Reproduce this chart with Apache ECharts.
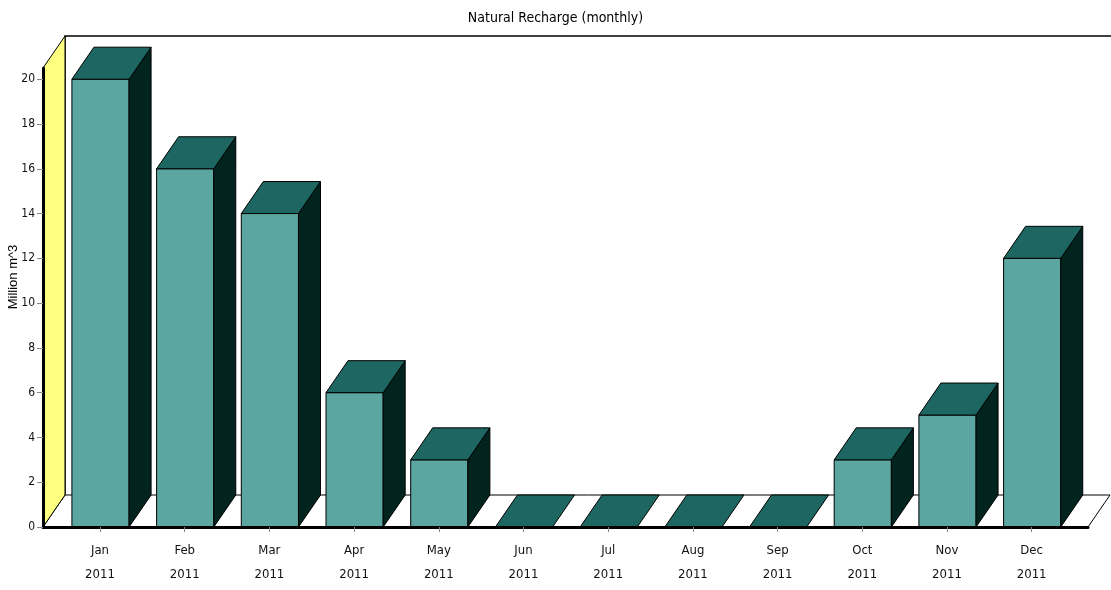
<!DOCTYPE html>
<html>
<head>
<meta charset="utf-8">
<script src="https://cdn.jsdelivr.net/npm/echarts@6/dist/echarts.min.js"></script>
<style>
  html, body { margin: 0; padding: 0; background: #ffffff; }
  #chart { width: 1111px; height: 590px; }
</style>
</head>
<body>
<div id="chart"></div>
<script>
// Monthly natural recharge, million m^3
const months = ['Jan', 'Feb', 'Mar', 'Apr', 'May', 'Jun', 'Jul', 'Aug', 'Sep', 'Oct', 'Nov', 'Dec'];
const year = '2011';
const recharge = [20, 16, 14, 6, 3, 0, 0, 0, 0, 3, 5, 12];
const yTicks = [0, 2, 4, 6, 8, 10, 12, 14, 16, 18, 20];

// Axis extents (month index on x, value on y)
const X_MIN = -0.673;
const X_MAX = 11.665;
const Y_MAX = 20.5;
// Pixel offset of the back plane (3D depth)
const DX = 22, DY = -32;

const NARROW = '"Liberation Sans Narrow", "DejaVu Sans Condensed", "Liberation Sans", sans-serif';
const COLORS = { front: '#5ca6a1', top: '#1e6661', side: '#02241f', wall: '#ffff80' };

const chart = echarts.init(document.getElementById('chart'), null, { renderer: 'canvas' });

function shift(p) { return [p[0] + DX, p[1] + DY]; }

function renderFrame(params, api) {
  const fl = api.coord([X_MIN, 0]);
  const fr = api.coord([X_MAX, 0]);
  const tl = api.coord([X_MIN, Y_MAX]);
  const stroke = { stroke: '#000', lineWidth: 1 };
  return {
    type: 'group',
    children: [
      // back wall: left and top edges
      { type: 'polyline', shape: { points: [shift(fl), shift(tl), [fr[0] + DX + 2, tl[1] + DY]] },
        style: { stroke: '#000', lineWidth: 1.5, fill: null } },
      // floor
      { type: 'polygon', shape: { points: [fl, fr, shift(fr), shift(fl)] },
        style: Object.assign({ fill: '#ffffff' }, stroke) },
      // side wall
      { type: 'polygon', shape: { points: [fl, tl, shift(tl), shift(fl)] },
        style: Object.assign({ fill: COLORS.wall }, stroke) }
    ]
  };
}

function renderBar(params, api) {
  const i = api.value(0);
  const v = api.value(1);
  const top = api.coord([i, v]);
  const base = api.coord([i, 0]);
  const w = api.size([1, 0])[0] * 0.675;
  const x0 = top[0] - w / 2 + 0.5, x1 = top[0] + w / 2 + 0.5;
  const yT = top[1], yB = base[1];
  const st = (fill) => ({ fill: fill, stroke: '#000', lineWidth: 1 });
  const children = [];
  if (v > 0) {
    children.push({ type: 'rect', shape: { x: x0, y: yT, width: w, height: yB - yT }, style: st(COLORS.front) });
    children.push({ type: 'polygon', shape: { points: [[x1, yT], shift([x1, yT]), shift([x1, yB]), [x1, yB]] }, style: st(COLORS.side) });
  }
  children.push({ type: 'polygon', shape: { points: [[x0, yT], shift([x0, yT]), shift([x1, yT]), [x1, yT]] }, style: st(COLORS.top) });
  return { type: 'group', children: children };
}

const option = {
  animation: false,
  title: {
    text: 'Natural Recharge (monthly)',
    left: 'center',
    top: 6,
    textStyle: { fontFamily: NARROW, fontSize: 14, fontWeight: 'normal', color: '#000' }
  },
  graphic: [{
    type: 'text',
    x: 13,
    y: 277,
    rotation: Math.PI / 2,
    style: {
      text: 'Million m^3',
      align: 'center',
      verticalAlign: 'middle',
      font: '13px "Liberation Sans", Arial, sans-serif',
      fill: '#000'
    }
  }],
  grid: { left: 43, right: 23, top: 68, bottom: 63, outerBoundsMode: 'none', containLabel: false },
  xAxis: {
    type: 'value',
    min: X_MIN,
    max: X_MAX,
    z: 10,
    splitLine: { show: false },
    axisLine: { show: true, onZero: false, lineStyle: { color: '#000', width: 3 } },
    axisTick: { show: true, length: 5, customValues: months.map((m, i) => i), lineStyle: { color: '#888' } },
    axisLabel: {
      customValues: months.map((m, i) => i),
      formatter: (v) => months[Math.round(v)] + '\n' + year,
      fontFamily: NARROW, fontSize: 13, color: '#111', lineHeight: 24, margin: 12
    }
  },
  yAxis: {
    type: 'value',
    min: 0,
    max: Y_MAX,
    z: 10,
    splitLine: { show: false },
    axisLine: { show: true, onZero: false, lineStyle: { color: '#000', width: 3 } },
    axisTick: { show: true, length: 6, customValues: yTicks, lineStyle: { color: '#888' } },
    axisLabel: { customValues: yTicks, fontFamily: NARROW, fontSize: 12, color: '#111', margin: 8 }
  },
  series: [
    {
      type: 'custom',
      z: 1,
      clip: false,
      silent: true,
      renderItem: renderFrame,
      data: [[0, 0]]
    },
    {
      type: 'custom',
      z: 2,
      clip: false,
      renderItem: renderBar,
      encode: { x: 0, y: 1 },
      data: recharge.map((v, i) => [i, v])
    }
  ]
};

chart.setOption(option);
</script>
</body>
</html>
